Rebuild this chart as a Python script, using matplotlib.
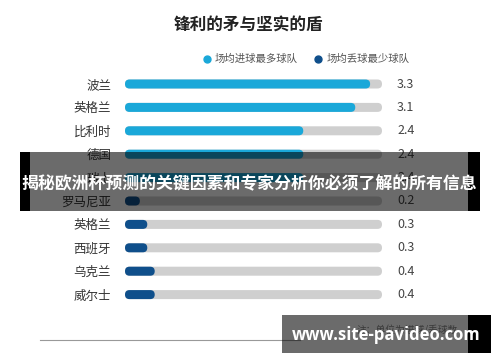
import matplotlib
matplotlib.use("Agg")
import matplotlib.pyplot as plt
from matplotlib.patches import FancyBboxPatch, Rectangle
from matplotlib.lines import Line2D

plt.rcParams['font.family'] = ['Noto Sans CJK SC', 'DejaVu Sans']

# ---- data ----
title = "锋利的矛与坚实的盾"
legend_labels = ["场均进球最多球队", "场均丢球最少球队"]
categories = ["波兰", "英格兰", "比利时", "德国", "瑞士",
              "罗马尼亚", "英格兰", "西班牙", "乌克兰", "威尔士"]
values = [3.3, 3.1, 2.4, 2.4, 2.4, 0.2, 0.3, 0.3, 0.4, 0.4]
value_labels = ["3.3", "3.1", "2.4", "2.4", "2.4", "0.2", "0.3", "0.3", "0.4", "0.4"]
groups = [0, 0, 0, 0, 0, 1, 1, 1, 1, 1]
note = "注：单位为进球/丢球数"
banner_text = "揭秘欧洲杯预测的关键因素和专家分析你必须了解的所有信息"
watermark = "www.site-pavideo.com"

# ---- style ----
colors = ["#1aa8d9", "#0f4f8b"]
track_color = "#cfcfcf"
track_max = 3.46
W, H = 500, 362

def fx(px):
    return px / W

def fy(py):
    return 1 - py / H

fig = plt.figure(figsize=(5.0, 3.62), dpi=100)
fig.patch.set_facecolor("white")

# axes covering bars: x px 125..382, rows centred 84..294.5
row_h = 23.4
top_px = 84 - row_h / 2
bot_px = top_px + row_h * len(categories)
ax = fig.add_axes([fx(125), fy(bot_px), fx(382) - fx(125), (bot_px - top_px) / H])
ax.set_xlim(0, track_max)
ax.set_ylim(len(categories) - 0.5, -0.5)
for s in ax.spines.values():
    s.set_visible(False)
ax.set_xticks([])
ax.set_yticks(range(len(categories)))
ax.set_yticklabels(categories, fontsize=9, color="#333333")
ax.tick_params(axis="y", length=0, pad=10)
ax.patch.set_alpha(0)

px_per_x = ax.bbox.width / track_max
px_per_y = ax.bbox.height / len(categories)
m_aspect = px_per_x / px_per_y
bar_h = 9.0 / px_per_y

def rbar(x0, width, yc, color, z):
    w_px = width * px_per_x
    r_px = min(4.5, w_px / 2)
    p = FancyBboxPatch((x0, yc - bar_h / 2), width, bar_h,
                       boxstyle=f"round,pad=0,rounding_size={r_px / px_per_x}",
                       mutation_aspect=m_aspect, facecolor=color,
                       edgecolor="none", zorder=z)
    ax.add_patch(p)

for i, (v, g) in enumerate(zip(values, groups)):
    rbar(0, track_max, i, track_color, 1)
    rbar(0, v, i, colors[g], 2)
    ax.text((397 - 125) / 257, i, value_labels[i], transform=ax.get_yaxis_transform(),
            ha="left", va="center", fontsize=9, color="#444444")

# title
fig.text(fx(248), fy(26), title, ha="center", va="center", fontsize=12,
         fontweight="bold", color="#222222")

# legend
for cx, tx, lab, c in [(207, 215, legend_labels[0], colors[0]),
                        (318, 327, legend_labels[1], colors[1])]:
    fig.add_artist(Line2D([fx(cx)], [fy(59)], marker="o", markersize=5,
                          color=c, linestyle="none"))
    fig.text(fx(tx), fy(59), lab, ha="left", va="center", fontsize=7.5, color="#555555")

# footer line and note
fig.add_artist(Line2D([fx(40), fx(300)], [fy(340), fy(340)], color="#999999", lw=0.8))
fig.text(fx(458), fy(330), note, ha="right", va="center", fontsize=7, color="#888888")

# banner overlay
fig.add_artist(Rectangle((fx(30), fy(211)), fx(468) - fx(30), (211 - 152) / H,
                         transform=fig.transFigure, facecolor="black", alpha=0.58,
                         edgecolor="none", zorder=10))
for x0, x1 in [(20, 30), (468, 480)]:
    fig.add_artist(Rectangle((fx(x0), fy(211)), fx(x1) - fx(x0), (211 - 152) / H,
                             transform=fig.transFigure, facecolor="black",
                             edgecolor="none", zorder=10))
fig.text(fx(249), fy(184), banner_text, ha="center", va="center", fontsize=12.2,
         fontweight="bold", color="white", zorder=11)

# watermark
fig.add_artist(Rectangle((fx(282), fy(353)), fx(468) - fx(282), (353 - 315) / H,
                         transform=fig.transFigure, facecolor="black", alpha=0.58,
                         edgecolor="none", zorder=10))
fig.add_artist(Rectangle((fx(468), fy(353)), fx(491) - fx(468), (353 - 315) / H,
                         transform=fig.transFigure, facecolor="black",
                         edgecolor="none", zorder=10))
fig.text(fx(386), fy(335), watermark, ha="center", va="center", fontsize=12,
         fontweight="bold", family="Open Sans", color="white", zorder=11)

fig.savefig("out.png", dpi=100)
